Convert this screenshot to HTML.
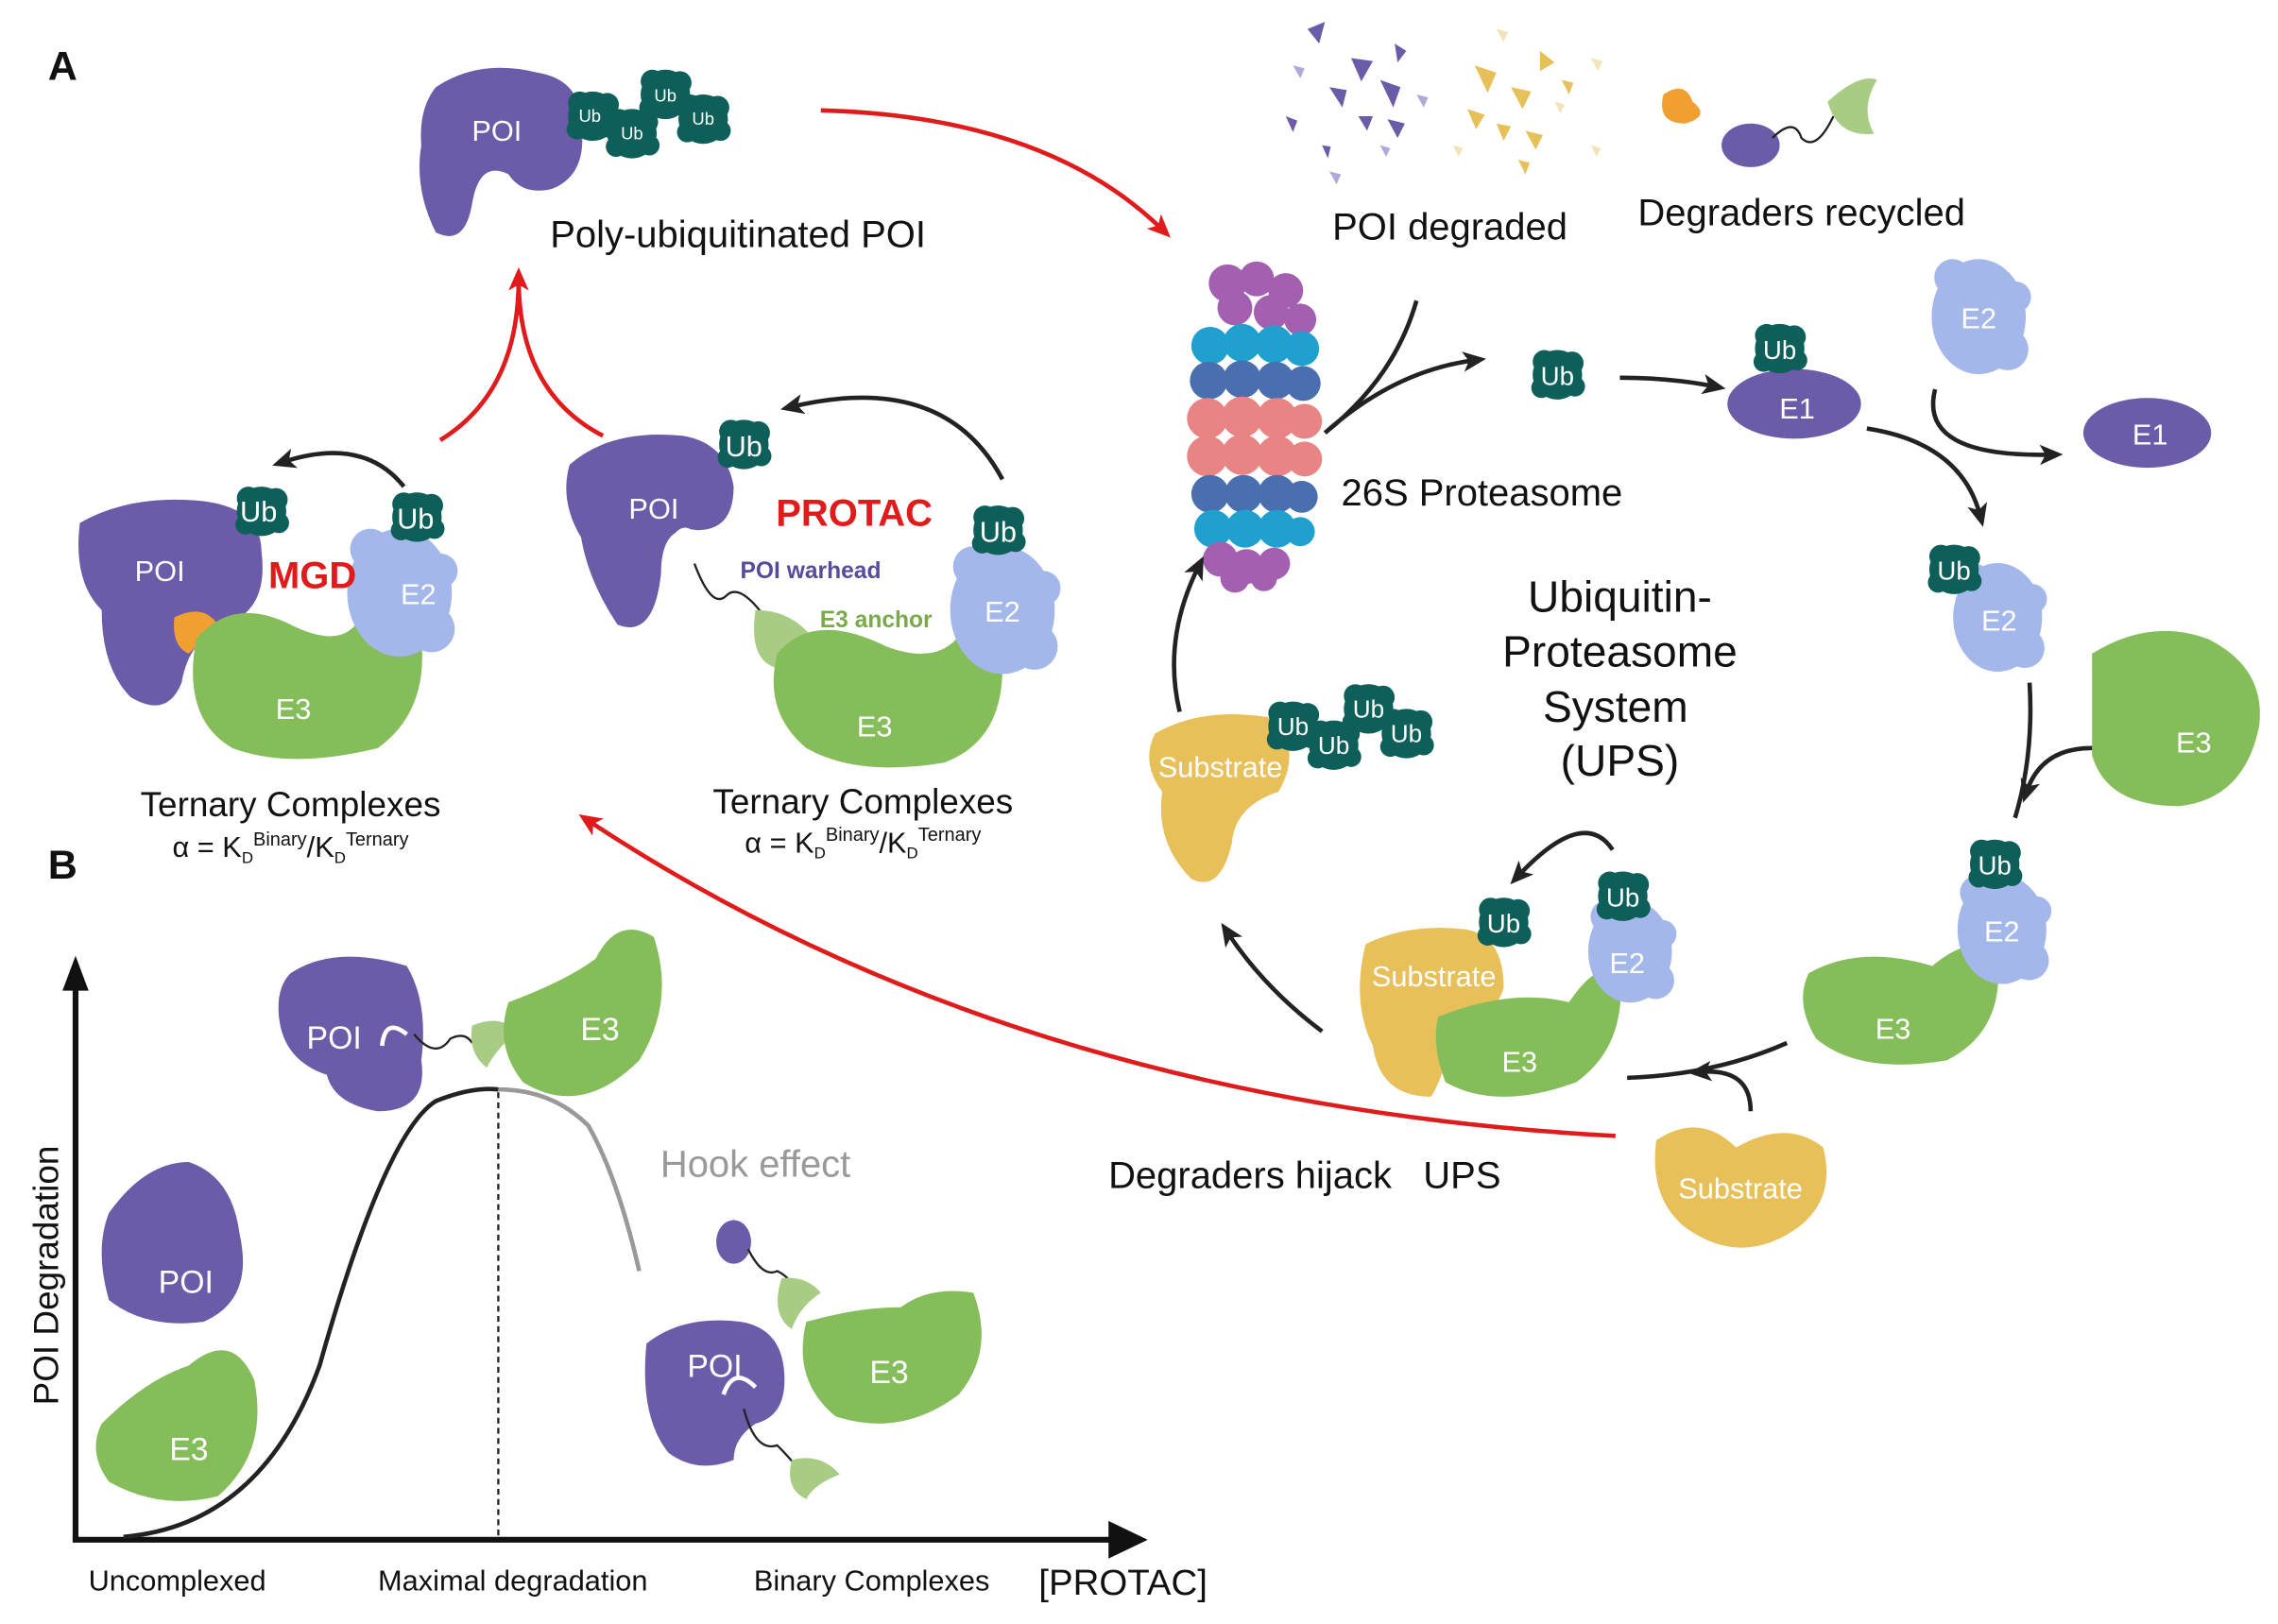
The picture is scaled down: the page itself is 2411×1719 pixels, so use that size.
<!DOCTYPE html>
<html><head><meta charset="utf-8"><style>
html,body{margin:0;padding:0;background:#fff}
svg{display:block}
text{font-family:"Liberation Sans",sans-serif}
</style></head><body>
<svg width="2411" height="1719" viewBox="0 0 1568 1118" preserveAspectRatio="none" xmlns="http://www.w3.org/2000/svg">
<defs>
<marker id="ar" markerWidth="16" markerHeight="14" refX="8" refY="7" orient="auto" markerUnits="userSpaceOnUse" viewBox="0 0 16 14"><path d="M0,0 L16,7 L0,14 L4,7z" fill="#e01b1b"/></marker>
<marker id="ak" markerWidth="16" markerHeight="14" refX="8" refY="7" orient="auto" markerUnits="userSpaceOnUse" viewBox="0 0 16 14"><path d="M0,0 L16,7 L0,14 L4,7z" fill="#222"/></marker>
<g id="ub"><circle r="17" fill="#0e5f59"/><circle cx="-9" cy="-9" r="8" fill="#0e5f59"/><circle cx="10" cy="-8" r="8" fill="#0e5f59"/><circle cx="12" cy="8" r="7" fill="#0e5f59"/><circle cx="-11" cy="9" r="7" fill="#0e5f59"/></g>
<g id="e2"><ellipse rx="36" ry="44" fill="#a3b7ea"/><circle cx="-20" cy="-30" r="14" fill="#a3b7ea"/><circle cx="22" cy="25" r="16" fill="#a3b7ea"/><circle cx="28" cy="-15" r="12" fill="#a3b7ea"/></g>
</defs>
<g font-weight="bold" font-size="28" fill="#111"><text x="33" y="55">A</text><text x="33" y="605">B</text></g>

<path d="M300,60 Q330,40 370,50 Q400,55 400,85 Q405,120 380,130 Q360,135 350,120 Q330,110 325,140 Q320,170 300,160 Q285,130 290,100 Q288,75 300,60z" fill="#6b5ba8"/>
<text x="342" y="97" font-size="20" fill="#fff" text-anchor="middle">POI</text>
<use href="#ub" x="408" y="80"/><use href="#ub" x="435" y="92"/><use href="#ub" x="458" y="65"/><use href="#ub" x="484" y="82"/>
<g font-size="12" fill="#fff" text-anchor="middle"><text x="406" y="84">Ub</text><text x="435" y="96">Ub</text><text x="458" y="70">Ub</text><text x="484" y="86">Ub</text></g>
<text x="508" y="170" font-size="26" text-anchor="middle" fill="#111">Poly-ubiquitinated POI</text>
<path d="M565,76 Q720,80 800,158" fill="none" stroke="#e01b1b" stroke-width="3" marker-end="url(#ar)"/>
<path d="M303,303 Q357,270 357,192 M415,300 Q357,270 357,192" fill="none" stroke="#e01b1b" stroke-width="3" marker-end="url(#ar)"/>

<path d="M55,360 Q90,340 140,345 Q180,350 180,380 Q185,420 155,430 Q130,440 125,470 Q115,495 90,480 Q70,460 70,420 Q50,400 55,360z" fill="#6b5ba8"/>
<path d="M120,425 Q140,415 150,430 Q140,440 130,450 Q118,445 120,425z" fill="#f0a030"/>
<path d="M135,440 Q160,410 200,430 Q240,450 250,420 Q280,400 290,440 Q295,490 260,515 Q200,530 160,515 Q125,495 135,440z" fill="#86bd5b"/>
<use href="#e2" x="275" y="408"/>
<use href="#ub" x="180" y="352"/><use href="#ub" x="287" y="356"/>
<g fill="#fff" font-size="20" text-anchor="middle"><text x="110" y="400">POI</text><text x="178" y="359">Ub</text><text x="286" y="364">Ub</text><text x="288" y="416">E2</text><text x="202" y="495">E3</text></g>
<text x="215" y="405" font-size="26" font-weight="bold" fill="#e01b1b" text-anchor="middle">MGD</text>
<path d="M278,335 Q250,300 195,318" fill="none" stroke="#222" stroke-width="3" marker-end="url(#ak)"/>
<text x="200" y="562" font-size="24" text-anchor="middle" fill="#111">Ternary Complexes</text>
<text x="200" y="590" font-size="20" text-anchor="middle" fill="#111">α = K<tspan font-size="11" dy="4">D</tspan><tspan font-size="13" dy="-12">Binary</tspan><tspan dy="8">/K</tspan><tspan font-size="11" dy="4">D</tspan><tspan font-size="13" dy="-12">Ternary</tspan></text>

<path d="M392,320 Q420,295 470,300 Q500,305 505,335 Q505,365 480,365 Q455,360 455,395 Q450,440 425,430 Q405,400 400,370 Q385,345 392,320z" fill="#6b5ba8"/>
<path d="M460,378 Q470,355 480,372" fill="none" stroke="#fff" stroke-width="3"/>
<path d="M478,388 Q490,420 500,410 Q510,400 530,430" fill="none" stroke="#222" stroke-width="1.5"/>
<path d="M520,420 Q545,420 560,440 Q540,445 535,460 Q515,455 520,420z" fill="#a8cc84"/>
<path d="M535,450 Q560,420 610,445 Q650,460 665,430 Q690,420 690,460 Q690,510 650,525 Q590,535 555,515 Q525,490 535,450z" fill="#86bd5b"/>
<use href="#e2" x="690" y="420"/>
<use href="#ub" x="512" y="306"/><use href="#ub" x="687" y="365"/>
<g fill="#fff" font-size="20" text-anchor="middle"><text x="450" y="357">POI</text><text x="512" y="314">Ub</text><text x="687" y="373">Ub</text><text x="690" y="428">E2</text><text x="602" y="507">E3</text></g>
<text x="588" y="362" font-size="26" font-weight="bold" fill="#e01b1b" text-anchor="middle">PROTAC</text>
<text x="558" y="398" font-size="16" font-weight="bold" fill="#5a4a9a" text-anchor="middle">POI warhead</text>
<text x="603" y="432" font-size="16" font-weight="bold" fill="#7aaa4a" text-anchor="middle">E3 anchor</text>
<path d="M690,330 Q650,255 545,280" fill="none" stroke="#222" stroke-width="3" marker-end="url(#ak)"/>
<text x="594" y="560" font-size="24" text-anchor="middle" fill="#111">Ternary Complexes</text>
<text x="594" y="587" font-size="20" text-anchor="middle" fill="#111">α = K<tspan font-size="11" dy="4">D</tspan><tspan font-size="13" dy="-12">Binary</tspan><tspan dy="8">/K</tspan><tspan font-size="11" dy="4">D</tspan><tspan font-size="13" dy="-12">Ternary</tspan></text>

<g fill="#6b5ba8"><path d="M900,20 l12,-5 l-4,15z"/><path d="M930,40 l15,2 l-8,14z"/><path d="M950,55 l14,5 l-5,14z"/><path d="M915,60 l12,2 l-3,12z"/><path d="M960,30 l8,5 l-6,8z"/><path d="M935,80 l10,0 l-4,10z"/><path d="M955,82 l12,3 l-5,10z"/><path d="M885,80 l8,3 l-3,8z"/><path d="M910,100 l6,1 l-2,8z"/></g>
<g fill="#b0a8d8"><path d="M890,45 l8,2 l-3,7z"/><path d="M975,65 l8,2 l-3,7z"/><path d="M915,118 l8,2 l-3,7z"/><path d="M950,100 l7,2 l-3,6z"/></g>
<g fill="#e8c05a"><path d="M1015,45 l15,5 l-6,14z"/><path d="M1040,60 l14,3 l-6,12z"/><path d="M1060,35 l10,8 l-10,6z"/><path d="M1010,75 l12,4 l-6,10z"/><path d="M1030,85 l10,2 l-5,10z"/><path d="M1050,90 l12,3 l-5,10z"/><path d="M1045,110 l8,2 l-3,8z"/><path d="M1075,55 l8,2 l-3,8z"/></g>
<g fill="#f2e3b8"><path d="M1030,20 l8,2 l-3,7z"/><path d="M1095,40 l8,2 l-3,7z"/><path d="M1000,100 l7,2 l-3,6z"/><path d="M1095,100 l7,2 l-3,6z"/><path d="M1070,70 l7,2 l-3,6z"/></g>
<path d="M1145,65 Q1160,55 1165,70 Q1178,80 1160,85 Q1140,85 1145,65z" fill="#f0a030"/>
<ellipse cx="1205" cy="100" rx="20" ry="15" fill="#6b5ba8"/>
<path d="M1220,95 Q1235,80 1240,95 Q1250,105 1262,80" fill="none" stroke="#222" stroke-width="1.5"/>
<path d="M1258,70 Q1280,50 1292,55 Q1280,75 1290,92 Q1265,95 1258,70z" fill="#a8cc84"/>
<text x="998" y="165" font-size="26" text-anchor="middle" fill="#111">POI degraded</text>
<text x="1240" y="155" font-size="26" text-anchor="middle" fill="#111">Degraders recycled</text>

<g>
<g fill="#a35fb0"><circle cx="845" cy="195" r="13"/><circle cx="865" cy="192" r="12"/><circle cx="885" cy="200" r="12"/><circle cx="850" cy="212" r="12"/><circle cx="875" cy="215" r="12"/><circle cx="895" cy="220" r="11"/></g>
<g fill="#1fa0cf"><circle cx="833" cy="238" r="13"/><circle cx="855" cy="236" r="13"/><circle cx="877" cy="237" r="13"/><circle cx="896" cy="240" r="12"/></g>
<g fill="#4a6fae"><circle cx="832" cy="262" r="13"/><circle cx="855" cy="261" r="13"/><circle cx="878" cy="262" r="13"/><circle cx="897" cy="264" r="12"/></g>
<g fill="#e88484"><circle cx="831" cy="288" r="14"/><circle cx="855" cy="287" r="14"/><circle cx="879" cy="288" r="14"/><circle cx="898" cy="290" r="12"/><circle cx="831" cy="314" r="14"/><circle cx="855" cy="313" r="14"/><circle cx="879" cy="314" r="14"/><circle cx="898" cy="316" r="12"/></g>
<g fill="#4a6fae"><circle cx="833" cy="340" r="13"/><circle cx="856" cy="340" r="13"/><circle cx="879" cy="340" r="13"/><circle cx="896" cy="342" r="11"/></g>
<g fill="#1fa0cf"><circle cx="835" cy="364" r="13"/><circle cx="857" cy="364" r="13"/><circle cx="879" cy="364" r="13"/><circle cx="895" cy="366" r="10"/></g>
<g fill="#a35fb0"><circle cx="840" cy="385" r="12"/><circle cx="858" cy="390" r="12"/><circle cx="877" cy="388" r="11"/><circle cx="850" cy="398" r="10"/><circle cx="870" cy="398" r="9"/></g>
</g>
<text x="1020" y="348" font-size="26" text-anchor="middle" fill="#111">26S Proteasome</text>
<path d="M912,298 Q960,260 975,207 M912,298 Q960,255 1015,248" fill="none" stroke="#222" stroke-width="3" marker-end="url(#ak)"/>
<use href="#ub" x="1072" y="258"/><text x="1072" y="265" font-size="18" fill="#fff" text-anchor="middle">Ub</text>
<path d="M1115,260 Q1150,260 1180,266" fill="none" stroke="#222" stroke-width="3" marker-end="url(#ak)"/>
<ellipse cx="1235" cy="278" rx="46" ry="24" fill="#6b5ba8"/>
<use href="#ub" x="1225" y="240"/><text x="1225" y="247" font-size="18" fill="#fff" text-anchor="middle">Ub</text>
<text x="1237" y="288" font-size="20" fill="#fff" text-anchor="middle">E1</text>
<use href="#e2" x="1362" y="218" transform="translate(1362,218) scale(0.9) translate(-1362,-218)"/><text x="1362" y="226" font-size="20" fill="#fff" text-anchor="middle">E2</text>
<ellipse cx="1478" cy="298" rx="44" ry="24" fill="#6b5ba8"/><text x="1480" y="306" font-size="20" fill="#fff" text-anchor="middle">E1</text>
<path d="M1285,295 Q1350,305 1363,355" fill="none" stroke="#222" stroke-width="3" marker-end="url(#ak)"/>
<path d="M1332,268 Q1320,315 1412,313" fill="none" stroke="#222" stroke-width="3" marker-end="url(#ak)"/>
<use href="#e2" x="1375" y="425" transform="translate(1375,425) scale(0.85) translate(-1375,-425)"/><use href="#ub" x="1345" y="392"/>
<text x="1345" y="399" font-size="18" fill="#fff" text-anchor="middle">Ub</text><text x="1376" y="434" font-size="20" fill="#fff" text-anchor="middle">E2</text>
<path d="M1440,450 Q1480,425 1520,440 Q1560,460 1555,500 Q1545,550 1500,555 Q1450,555 1440,520 Q1440,490 1440,450z" fill="#86bd5b"/><text x="1510" y="518" font-size="20" fill="#fff" text-anchor="middle">E3</text>
<path d="M1397,470 Q1400,520 1387,563 M1440,515 Q1405,515 1395,545" fill="none" stroke="#222" stroke-width="3" marker-end="url(#ak)"/>
<path d="M1245,670 Q1280,650 1330,665 Q1360,640 1375,660 Q1380,710 1340,730 Q1280,740 1250,715 Q1235,690 1245,670z" fill="#86bd5b"/>
<use href="#e2" x="1378" y="640" transform="translate(1378,640) scale(0.85) translate(-1378,-640)"/><use href="#ub" x="1373" y="595"/>
<text x="1373" y="602" font-size="18" fill="#fff" text-anchor="middle">Ub</text><text x="1378" y="648" font-size="20" fill="#fff" text-anchor="middle">E2</text><text x="1303" y="715" font-size="20" fill="#fff" text-anchor="middle">E3</text>
<path d="M1230,718 Q1180,740 1120,742 M1205,765 Q1205,735 1170,738" fill="none" stroke="#222" stroke-width="3" marker-end="url(#ak)"/>
<path d="M1140,785 Q1170,765 1195,790 Q1230,770 1255,790 Q1265,830 1230,850 Q1195,870 1160,845 Q1135,825 1140,785z" fill="#e8c05a"/>
<text x="1198" y="825" font-size="20" fill="#fff" text-anchor="middle">Substrate</text>

<path d="M940,650 Q970,635 1010,640 Q1035,645 1035,680 Q1030,700 1000,705 Q995,740 985,755 Q950,755 945,720 Q930,690 940,650z" fill="#e8c05a"/>
<path d="M990,700 Q1040,680 1080,690 Q1100,660 1115,670 Q1120,720 1085,745 Q1030,765 995,745 Q985,720 990,700z" fill="#86bd5b"/>
<use href="#e2" x="1122" y="655" transform="translate(1122,655) scale(0.8) translate(-1122,-655)"/>
<use href="#ub" x="1035" y="635"/><use href="#ub" x="1117" y="617"/>
<g fill="#fff" text-anchor="middle"><text x="1035" y="642" font-size="18">Ub</text><text x="1117" y="624" font-size="18">Ub</text><text x="1120" y="670" font-size="20">E2</text><text x="987" y="679" font-size="20">Substrate</text><text x="1046" y="738" font-size="20">E3</text></g>
<path d="M910,710 Q870,680 845,642" fill="none" stroke="#222" stroke-width="3" marker-end="url(#ak)"/>
<path d="M1110,585 Q1090,555 1045,603" fill="none" stroke="#222" stroke-width="3" marker-end="url(#ak)"/>
<path d="M795,505 Q830,485 880,495 Q895,520 880,545 Q850,555 848,580 Q840,615 820,605 Q795,580 800,545 Q785,525 795,505z" fill="#e8c05a"/>
<use href="#ub" x="890" y="500"/><use href="#ub" x="918" y="513"/><use href="#ub" x="942" y="488"/><use href="#ub" x="968" y="505"/>
<g fill="#fff" text-anchor="middle" font-size="17"><text x="890" y="506">Ub</text><text x="918" y="519">Ub</text><text x="942" y="494">Ub</text><text x="968" y="511">Ub</text><text x="840" y="535" font-size="20">Substrate</text></g>
<path d="M812,490 Q800,440 825,390" fill="none" stroke="#222" stroke-width="3" marker-end="url(#ak)"/>
<g font-size="30" text-anchor="middle" fill="#111"><text x="1115" y="421">Ubiquitin-</text><text x="1115" y="459">Proteasome</text><text x="1112" y="497">System</text><text x="1115" y="534">(UPS)</text></g>
<path d="M1112,782 Q700,760 405,565" fill="none" stroke="#e01b1b" stroke-width="3" marker-end="url(#ar)"/>
<text x="898" y="818" font-size="26" text-anchor="middle" fill="#111" xml:space="preserve">Degraders hijack   UPS</text>

<path d="M52,1060 L52,675" stroke="#111" stroke-width="4" fill="none"/><path d="M43,682 L52,658 L61,682z" fill="#111"/>
<path d="M50,1060 L770,1060" stroke="#111" stroke-width="4" fill="none"/><path d="M763,1047 L790,1060 L763,1073z" fill="#111"/>
<text transform="translate(40,878) rotate(-90)" font-size="24" text-anchor="middle" fill="#111">POI Degradation</text>
<path d="M85,1058 Q180,1050 220,940 Q265,780 300,758 Q325,748 343,750" fill="none" stroke="#222" stroke-width="3"/>
<path d="M343,750 Q380,750 405,775 Q425,810 440,875" fill="none" stroke="#999" stroke-width="3"/>
<line x1="343" y1="752" x2="343" y2="1058" stroke="#222" stroke-width="1.5" stroke-dasharray="4,3"/>
<text x="520" y="810" font-size="26" text-anchor="middle" fill="#999">Hook effect</text>
<g font-size="20" text-anchor="middle" fill="#111"><text x="122" y="1095">Uncomplexed</text><text x="353" y="1095">Maximal degradation</text><text x="600" y="1095">Binary Complexes</text><text x="773" y="1098" font-size="25">[PROTAC]</text></g>
<path d="M200,670 Q230,650 280,665 Q295,690 290,730 Q295,765 260,765 Q230,760 225,740 Q195,730 192,700 Q190,680 200,670z" fill="#6b5ba8"/>
<path d="M263,720 Q265,700 280,712" fill="none" stroke="#fff" stroke-width="3"/>
<path d="M285,712 Q300,730 310,715 Q320,710 325,718" fill="none" stroke="#222" stroke-width="1.5"/>
<path d="M325,706 Q345,698 355,710 Q340,725 335,735 Q322,725 325,706z" fill="#a8cc84"/>
<path d="M350,690 Q390,675 410,660 Q425,630 450,645 Q465,690 440,730 Q400,770 360,745 Q340,720 350,690z" fill="#86bd5b"/>
<text x="230" y="722" font-size="22" fill="#fff" text-anchor="middle">POI</text><text x="413" y="716" font-size="22" fill="#fff" text-anchor="middle">E3</text>
<path d="M75,835 Q100,800 130,800 Q160,810 165,850 Q175,895 140,910 Q100,915 75,895 Q65,860 75,835z" fill="#6b5ba8"/><text x="128" y="890" font-size="22" fill="#fff" text-anchor="middle">POI</text>
<path d="M70,980 Q100,950 130,940 Q160,915 175,950 Q185,1000 150,1030 Q110,1040 75,1020 Q60,1000 70,980z" fill="#86bd5b"/><text x="130" y="1005" font-size="22" fill="#fff" text-anchor="middle">E3</text>
<ellipse cx="505" cy="855" rx="12" ry="15" fill="#6b5ba8"/>
<path d="M515,860 Q525,880 535,875 Q545,880 548,890" fill="none" stroke="#222" stroke-width="1.5"/>
<path d="M538,880 Q555,878 565,890 Q550,900 545,915 Q530,905 538,880z" fill="#a8cc84"/>
<path d="M555,910 Q590,900 620,900 Q640,885 670,890 Q685,930 660,960 Q620,990 575,975 Q545,950 555,910z" fill="#86bd5b"/><text x="612" y="952" font-size="22" fill="#fff" text-anchor="middle">E3</text>
<path d="M445,925 Q470,905 510,910 Q540,915 540,950 Q540,975 520,980 Q505,990 505,1005 Q480,1015 460,1000 Q440,975 445,925z" fill="#6b5ba8"/>
<path d="M498,960 Q505,940 520,955" fill="none" stroke="#fff" stroke-width="3"/>
<path d="M512,970 Q520,1000 535,995 Q545,1005 550,1012" fill="none" stroke="#222" stroke-width="1.5"/>
<path d="M545,1005 Q565,1000 578,1015 Q560,1022 555,1032 Q540,1025 545,1005z" fill="#a8cc84"/>
<text x="492" y="948" font-size="22" fill="#fff" text-anchor="middle">POI</text>
</svg>
</body></html>
